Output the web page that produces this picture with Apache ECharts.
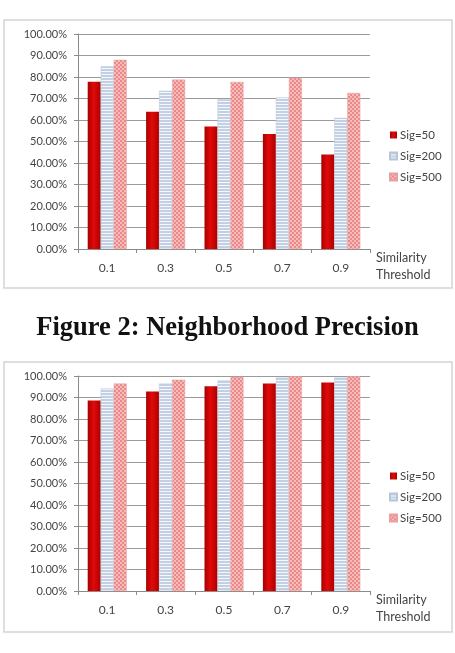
<!DOCTYPE html>
<html>
<head>
<meta charset="utf-8">
<script src="https://cdn.jsdelivr.net/npm/echarts@6/dist/echarts.min.js"></script>
<style>
  html, body { margin: 0; padding: 0; background: #fff; }
  #main { width: 455px; height: 653px; }
</style>
</head>
<body>
<div id="main"></div>
<script>
var categories = ['0.1', '0.3', '0.5', '0.7', '0.9']
var seriesNames = ['Sig=50', 'Sig=200', 'Sig=500']

// top chart (percent)
var topSig50 = [77.8, 63.8, 57.0, 53.5, 44.0]
var topSig200 = [85.0, 73.6, 69.7, 70.5, 61.0]
var topSig500 = [88.0, 78.8, 77.7, 79.6, 72.6]

// bottom chart (percent)
var botSig50 = [88.6, 92.8, 95.2, 96.5, 97.0]
var botSig200 = [94.2, 96.5, 98.0, 99.3, 99.3]
var botSig500 = [96.5, 98.3, 99.6, 99.9, 99.9]

function makePattern(w, h, draw) {
  var c = document.createElement('canvas')
  c.width = w
  c.height = h
  draw(c.getContext('2d'))
  return c
}

var stripeImg = makePattern(4, 3, function (ctx) {
  ctx.fillStyle = '#c3d0e3'
  ctx.fillRect(0, 0, 4, 3)
  ctx.fillStyle = '#f4f7fb'
  ctx.fillRect(0, 2, 4, 1)
})
var checkImg = makePattern(4, 4, function (ctx) {
  ctx.fillStyle = '#ffffff'
  ctx.fillRect(0, 0, 4, 4)
  ctx.fillStyle = '#ec8888'
  ctx.fillRect(0, 0, 2, 2)
  ctx.fillRect(2, 2, 2, 2)
  ctx.fillStyle = '#f5bcbc'
  ctx.fillRect(2, 0, 2, 2)
  ctx.fillRect(0, 2, 2, 2)
})

var redFill = new echarts.graphic.LinearGradient(0, 0, 1, 0, [
  { offset: 0, color: '#a80000' },
  { offset: 0.45, color: '#e00a0a' },
  { offset: 1, color: '#b00000' }
])

var styles = [
  { color: redFill },
  { color: { image: stripeImg, repeat: 'repeat' }, borderColor: '#b8c6da', borderWidth: 0.5 },
  { color: { image: checkImg, repeat: 'repeat' }, borderColor: '#eaa0a0', borderWidth: 0.5 }
]

var labelFont = 'Lato, "Open Sans", sans-serif'

function xAxisFor(gi) {
  return {
    type: 'category',
    gridIndex: gi,
    data: categories,
    name: 'Similarity\nThreshold',
    nameLocation: 'end',
    nameGap: 6,
    nameTextStyle: {
      fontFamily: labelFont, fontSize: 12.5, color: '#444',
      align: 'left', verticalAlign: 'top', lineHeight: 17, padding: [0, 0, 0, 0]
    },
    axisLine: { lineStyle: { color: '#8a8a8a', width: 1 } },
    axisTick: { show: true, length: 4, lineStyle: { color: '#8a8a8a' } },
    axisLabel: { fontFamily: labelFont, fontSize: 12, color: '#444', margin: 13 }
  }
}

function yAxisFor(gi) {
  return {
    type: 'value',
    gridIndex: gi,
    min: 0,
    max: 100,
    interval: 10,
    axisLine: { show: true, lineStyle: { color: '#8a8a8a', width: 1 } },
    axisTick: { show: true, length: 4, lineStyle: { color: '#8a8a8a' } },
    splitLine: { lineStyle: { color: '#9a9a9a', width: 1 } },
    axisLabel: {
      fontFamily: labelFont, fontSize: 11, color: '#444', margin: 11,
      formatter: function (v) { return v.toFixed(2) + '%' }
    }
  }
}

var topData = [topSig50, topSig200, topSig500]
var botData = [botSig50, botSig200, botSig500]
var series = []
;[topData, botData].forEach(function (set, gi) {
  set.forEach(function (vals, si) {
    series.push({
      name: seriesNames[si],
      type: 'bar',
      xAxisIndex: gi,
      yAxisIndex: gi,
      barWidth: 13,
      barGap: '0%',
      itemStyle: styles[si],
      data: vals
    })
  })
})

function legendFor(top) {
  return {
    orient: 'vertical',
    left: 384,
    top: top,
    itemWidth: 7,
    itemHeight: 7,
    itemGap: 9,
    icon: 'rect',
    textStyle: { fontFamily: labelFont, fontSize: 11.5, color: '#444', padding: [0, 0, 0, -2] },
    data: seriesNames
  }
}

var chartDom = document.getElementById('main')
var myChart = echarts.init(chartDom)
var option

option = {
  animation: false,
  backgroundColor: '#fff',
  grid: [
    { left: 78, right: 85, top: 34, height: 215 },
    { left: 78, right: 85, top: 376, height: 215 }
  ],
  xAxis: [xAxisFor(0), xAxisFor(1)],
  yAxis: [yAxisFor(0), yAxisFor(1)],
  legend: [legendFor(124), legendFor(465)],
  graphic: [
    {
      type: 'rect', z: -1,
      shape: { x: 4, y: 20, width: 448, height: 268 },
      style: { fill: '#fff', stroke: '#d4d4d4', lineWidth: 1.5 }
    },
    {
      type: 'rect', z: -1,
      shape: { x: 4, y: 362, width: 448, height: 270 },
      style: { fill: '#fff', stroke: '#d4d4d4', lineWidth: 1.5 }
    },
    {
      type: 'text',
      left: 'center',
      top: 315,
      style: {
        text: 'Figure 2: Neighborhood Precision',
        fontFamily: '"Liberation Serif", "DejaVu Serif", serif',
        fontWeight: 'bold',
        fontSize: 26.5,
        fill: '#111'
      }
    }
  ],
  series: series
}

option && myChart.setOption(option)
</script>
</body>
</html>
